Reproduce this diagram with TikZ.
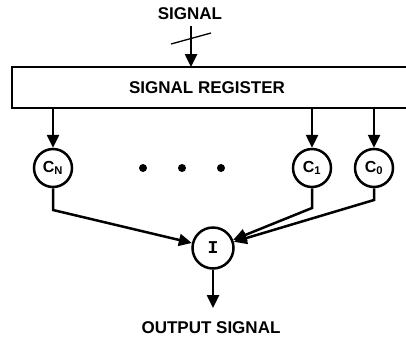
\documentclass[tikz,border=0pt]{standalone}
\usepackage{fontspec}
\setmainfont{Liberation Sans}
\newfontfamily\monob{Liberation Mono}
\usetikzlibrary{arrows.meta}
\begin{document}
\begin{tikzpicture}[x=1pt,y=-1pt,
  line width=2.5pt,
  tip/.style={-{Triangle[length=13pt,width=12pt]}},
  lbl/.style={font=\bfseries\fontsize{17}{19}\selectfont, inner sep=0pt},
  cnode/.style={circle, draw, line width=2.5pt, minimum size=38pt, inner sep=0pt, font=\bfseries\fontsize{16}{18}\selectfont},
  dotn/.style={circle, fill=black, minimum size=8pt, inner sep=0pt}]
\useasboundingbox (0,0) rectangle (406,343);
\node[lbl] (sig) at (190,14) {SIGNAL};
\draw[line width=2.8pt] (12,67) rectangle (412,108);
\coordinate (boxtop) at (191,67);
\node[lbl] (reg) at (207,88) {SIGNAL REGISTER};
\coordinate (sigstart) at (191,26);
\draw[tip] (sigstart) -- (boxtop);
\coordinate (sl1) at (171,44);
\coordinate (sl2) at (211,33);
\draw[line width=1.3pt] (sl1) -- (sl2);

\node[cnode] (CN) at (53,168) {C$_{\mathbf N}$};
\node[cnode] (C1) at (312,168) {C$_{\mathbf 1}$};
\node[cnode] (C0) at (374,168) {C$_{\mathbf 0}$};
\coordinate (bN) at (53,109);
\coordinate (b1) at (312,109);
\coordinate (b0) at (374,109);
\draw[tip] (bN) -- (CN);
\draw[tip] (b1) -- (C1);
\draw[tip] (b0) -- (C0);

\node[dotn] (d1) at (143,168) {};
\node[dotn] (d2) at (182,168) {};
\node[dotn] (d3) at (221,168) {};

\node[cnode, minimum size=41pt, font=\monob\bfseries\fontsize{18}{20}\selectfont] (I) at (213,248) {I};
\coordinate (kN) at (53,210);
\coordinate (k1) at (312,208);
\coordinate (k0) at (374,200);
\draw[tip] (CN) -- (kN) -- (I);
\draw[tip] (C1) -- (k1) -- (I);
\draw[tip] (C0) -- (k0) -- (I);

\coordinate (outend) at (213,308);
\draw[tip] (I) -- (outend);
\node[lbl] (out) at (211,328) {OUTPUT SIGNAL};
\end{tikzpicture}
\end{document}
